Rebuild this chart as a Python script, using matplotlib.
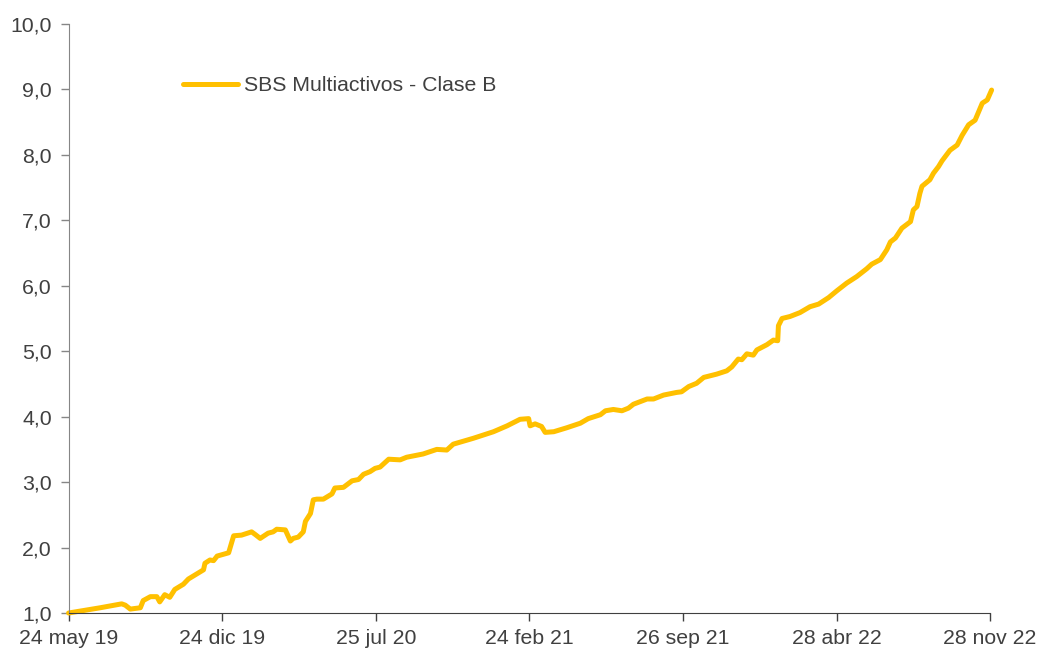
import matplotlib
matplotlib.use("Agg")
import matplotlib.pyplot as plt
import pandas as pd

plt.rcParams['font.family'] = ['Liberation Sans', 'DejaVu Sans']

start = pd.Timestamp("2019-05-24")

# days since 24 may 19
days = [0, 44, 74, 79, 86, 100, 104, 114, 123, 127, 134, 141, 148, 160, 167, 179,
        188, 190, 197, 202, 207, 223, 227, 230, 241, 255, 260, 267, 278, 285, 290,
        302, 309, 313, 320, 327, 330, 337, 341, 346, 355, 367, 371, 383, 395, 404,
        411, 420, 427, 434, 446, 462, 471, 494, 513, 527, 536, 564, 592, 611, 629,
        641, 643, 650, 659, 664, 676, 694, 713, 724, 741, 748, 759, 771, 780, 787,
        806, 815, 829, 847, 854, 864, 875, 885, 903, 917, 924, 933, 938, 945, 954,
        959, 973, 982, 988, 989, 994, 1005, 1019, 1033, 1045, 1059, 1070, 1084,
        1098, 1112, 1119, 1131, 1140, 1145, 1152, 1161, 1173, 1177, 1182, 1186,
        1189, 1200, 1205, 1212, 1217, 1228, 1238, 1245, 1254, 1263, 1268, 1273,
        1280, 1286]
values = [1.00, 1.08, 1.14, 1.12, 1.06, 1.08, 1.19, 1.25, 1.25, 1.17, 1.28, 1.24,
          1.36, 1.44, 1.52, 1.60, 1.66, 1.76, 1.81, 1.80, 1.87, 1.92, 2.07, 2.18,
          2.19, 2.24, 2.20, 2.14, 2.22, 2.24, 2.28, 2.27, 2.10, 2.14, 2.16, 2.24,
          2.40, 2.52, 2.73, 2.74, 2.74, 2.82, 2.91, 2.92, 3.02, 3.04, 3.12, 3.16,
          3.21, 3.23, 3.35, 3.34, 3.38, 3.43, 3.50, 3.49, 3.58, 3.67, 3.77, 3.86,
          3.96, 3.97, 3.86, 3.89, 3.85, 3.76, 3.77, 3.83, 3.90, 3.97, 4.03, 4.09,
          4.11, 4.09, 4.13, 4.19, 4.27, 4.27, 4.33, 4.37, 4.38, 4.46, 4.51, 4.60,
          4.65, 4.70, 4.76, 4.88, 4.87, 4.96, 4.94, 5.02, 5.10, 5.17, 5.16, 5.39,
          5.50, 5.53, 5.59, 5.68, 5.72, 5.82, 5.92, 6.04, 6.14, 6.26, 6.33, 6.40,
          6.55, 6.67, 6.73, 6.88, 6.98, 7.16, 7.21, 7.41, 7.52, 7.62, 7.72, 7.82,
          7.91, 8.07, 8.15, 8.30, 8.46, 8.53, 8.66, 8.79, 8.84, 8.99]

tick_dates = ["2019-05-24", "2019-12-24", "2020-07-25", "2021-02-24",
              "2021-09-26", "2022-04-28", "2022-11-28"]
tick_labels = ["24 may 19", "24 dic 19", "25 jul 20", "24 feb 21",
               "26 sep 21", "28 abr 22", "28 nov 22"]
y_ticks = [1, 2, 3, 4, 5, 6, 7, 8, 9, 10]

dates = start + pd.to_timedelta(days, unit="D")

fig = plt.figure(figsize=(10.39, 6.48), dpi=100)
ax = fig.add_axes([0.066, 0.054, 0.887, 0.909])

ax.plot(dates, values, color="#FFC000", lw=3.6, solid_joinstyle="round",
        solid_capstyle="round", clip_on=False, label="SBS Multiactivos - Clase B")

ax.set_xlim(pd.Timestamp(tick_dates[0]), pd.Timestamp(tick_dates[-1]))
ax.set_ylim(1, 10)
ax.set_xticks(pd.to_datetime(tick_dates))
ax.set_xticklabels(tick_labels)
ax.set_yticks(y_ticks)
ax.set_yticklabels([("%.1f" % v).replace(".", ",") for v in y_ticks])

for s in ["top", "right"]:
    ax.spines[s].set_visible(False)
ax.spines["left"].set_color("#868686")
ax.spines["bottom"].set_color("#404040")
ax.tick_params(axis="both", labelsize=15.3, colors="#404040", length=6, width=1)
ax.tick_params(axis="y", color="#868686", pad=6)
ax.tick_params(axis="x", color="#404040", pad=5.5)

ax.legend(loc="center left", bbox_to_anchor=(0.124, 0.895), frameon=False,
          fontsize=15.3, labelcolor="#404040", handlelength=2.6, handletextpad=0.3,
          borderpad=0, borderaxespad=0)

plt.savefig("out.png", dpi=100)
